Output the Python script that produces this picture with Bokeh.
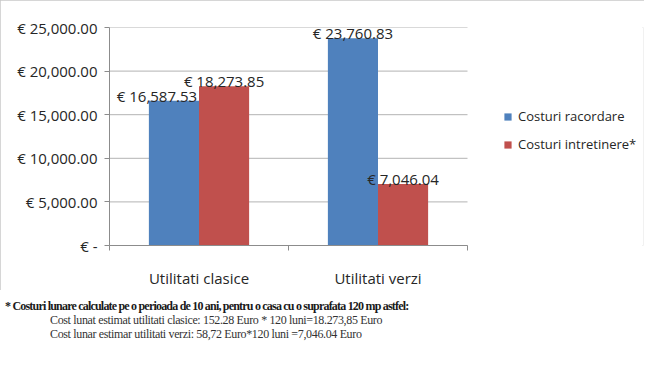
from bokeh.plotting import figure
from bokeh.models import (ColumnDataSource, FixedTicker, Legend, LegendItem, Div)
from bokeh.layouts import column
from bokeh.transform import dodge
from bokeh.core.properties import value
from bokeh.embed import file_html
from bokeh.resources import INLINE
import numpy as np

categories = ["Utilitati clasice", "Utilitati verzi"]
costuri_racordare = [16587.53, 23760.83]
costuri_intretinere = [18273.85, 7046.04]
series_names = ["Costuri racordare", "Costuri intretinere*"]
y_ticks = [0, 5000, 10000, 15000, 20000, 25000]
y_tick_labels = ["€ -", "€ 5,000.00", "€ 10,000.00", "€ 15,000.00", "€ 20,000.00", "€ 25,000.00"]
footnote_lines = [
    "* Costuri  lunare calculate pe o perioada de 10 ani, pentru o casa cu o suprafata 120 mp astfel:",
    "Cost lunat estimat  utilitati clasice: 152.28 Euro * 120 luni=18.273,85 Euro",
    "Cost lunar estimar utilitati  verzi: 58,72 Euro*120 luni =7,046.04 Euro",
]

FONT = "Open Sans"
FS = "15px"
BLUE = "#4F81BD"
RED = "#C0504D"
TXT = "#262626"
GRID = "#b3b3b3"
AXIS = "#8c8c8c"

def euro(v):
    return "€ {:,.2f}".format(v)

n_cat = len(categories)
pos = list(np.arange(n_cat) + 0.5)
src = ColumnDataSource(dict(
    x=pos,
    a=costuri_racordare,
    b=costuri_intretinere,
    a_lbl=[euro(v) for v in costuri_racordare],
    b_lbl=[euro(v) for v in costuri_intretinere],
    a_dx=[-17, 0],
))

# layout constants (pixels)
W, CH = 644, 290
LEFT, TOP, BOTTOM_Y = 109, 27, 250
PLOT_W = 358              # width of the bar area
FRAME_W = W - 1 - LEFT    # frame extends under the legend area
x_end = n_cat * FRAME_W / PLOT_W

p = figure(width=W, height=CH, x_range=(0, x_end), y_range=(0, 25000),
           min_border_left=LEFT, min_border_right=1, min_border_top=TOP,
           min_border_bottom=CH - BOTTOM_Y,
           output_backend="svg", toolbar_location=None)
p.outline_line_color = None
p.background_fill_color = "white"
p.border_fill_color = "white"
p.styles = {"outline": "2px solid #c8c8c8", "outline-offset": "-2px"}

# horizontal gridlines limited to the bar area
p.xgrid.visible = False
p.ygrid.visible = False
gsrc = ColumnDataSource(dict(y=y_ticks, x0=[0] * len(y_ticks), x1=[n_cat] * len(y_ticks)))
p.segment(x0="x0", x1="x1", y0="y", y1="y", source=gsrc, line_color=GRID, line_width=1)

bw = 0.28
ra = p.vbar(x=dodge("x", -bw / 2, range=p.x_range), top="a", width=bw, source=src,
            fill_color=BLUE, line_color=None)
rb = p.vbar(x=dodge("x", bw / 2, range=p.x_range), top="b", width=bw, source=src,
            fill_color=RED, line_color=None)

p.text(x=dodge("x", -bw / 2, range=p.x_range), y="a", text="a_lbl", x_offset="a_dx", y_offset=-5,
       source=src, text_align="center", text_baseline="alphabetic",
       text_font=value(FONT), text_font_size=FS, text_color=TXT)
p.text(x=dodge("x", bw / 2, range=p.x_range), y="b", text="b_lbl", y_offset=-5,
       source=src, text_align="center", text_baseline="alphabetic",
       text_font=value(FONT), text_font_size=FS, text_color=TXT)

ya = p.yaxis[0]
ya.ticker = FixedTicker(ticks=y_ticks)
ya.major_label_overrides = {t: l for t, l in zip(y_ticks, y_tick_labels)}
ya.axis_line_color = AXIS
ya.major_tick_line_color = AXIS
ya.major_tick_out = 5
ya.major_tick_in = 0
ya.minor_tick_line_color = None
ya.major_label_standoff = 7
ya.major_label_text_font = FONT
ya.major_label_text_font_size = FS
ya.major_label_text_color = TXT

xa = p.xaxis[0]
xa.bounds = (0, n_cat)
xa.ticker = FixedTicker(ticks=pos, minor_ticks=list(range(n_cat + 1)))
xa.major_label_overrides = {t: c for t, c in zip(pos, categories)}
xa.axis_line_color = AXIS
xa.major_tick_line_color = None
xa.major_tick_out = 5
xa.minor_tick_line_color = AXIS
xa.minor_tick_out = 5
xa.minor_tick_in = 0
xa.major_label_standoff = 17
xa.major_label_text_font = FONT
xa.major_label_text_font_size = FS
xa.major_label_text_color = TXT

legend = Legend(items=[LegendItem(label=series_names[0], renderers=[ra]),
                       LegendItem(label=series_names[1], renderers=[rb])],
                location=(394, 91), padding=0, margin=0, spacing=8,
                glyph_width=9, glyph_height=9, label_height=20, label_standoff=6,
                label_text_font=FONT, label_text_font_size="13px", label_text_color=TXT,
                border_line_color=None, background_fill_alpha=0)
p.add_layout(legend)

# footnote (HTML text block below the chart), kept smaller than the window
NW, NH = 630, 54
base = "position:absolute;white-space:nowrap;line-height:14px;font-family:'Liberation Serif',serif;"
html = (
    f'<div style="position:relative;width:{NW}px;height:{NH}px;overflow:hidden;">'
    f'<div style="{base}left:5px;top:9px;font-size:12px;font-weight:bold;'
    f'letter-spacing:-0.8px;color:#1a1a1a;">{footnote_lines[0]}</div>'
    f'<div style="{base}left:50px;top:23px;font-size:12px;'
    f'letter-spacing:-0.35px;color:#333333;">{footnote_lines[1]}</div>'
    f'<div style="{base}left:50px;top:37px;font-size:12px;'
    f'letter-spacing:-0.35px;color:#333333;">{footnote_lines[2]}</div>'
    '</div>'
)
note = Div(text=html, width=NW, height=NH, margin=0)

layout = column(p, note, spacing=0)
open("out.html", "w").write(file_html(layout, INLINE))
